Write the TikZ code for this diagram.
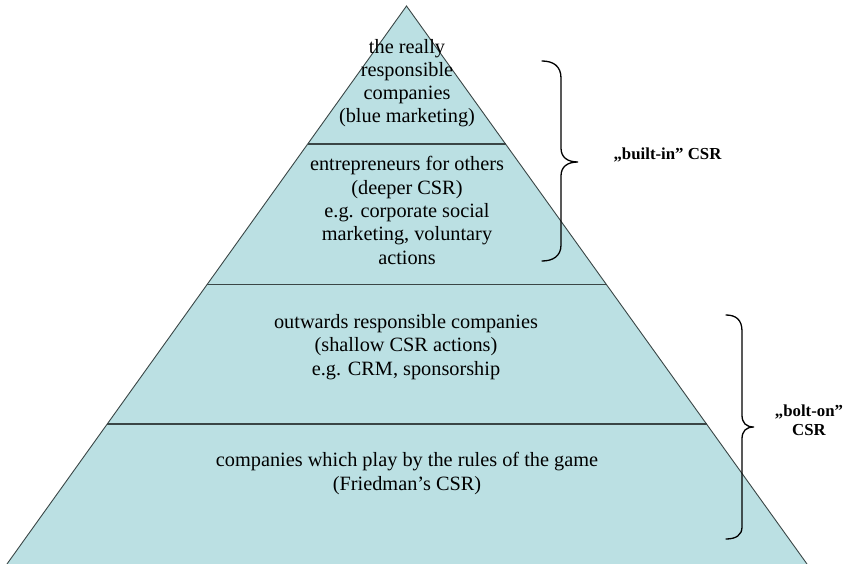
\documentclass[tikz,border=0pt]{standalone}
\usepackage{fontspec}
\setmainfont{Liberation Serif}
\usetikzlibrary{calc}
\definecolor{pyrfill}{HTML}{BBE0E3}
\definecolor{pyrline}{HTML}{3A4646}
\tikzset{
  layertext/.style={anchor=base, align=center, inner sep=0pt, font=\fontsize{20.3}{23.3}\selectfont},
  sidelabel/.style={anchor=base, align=center, inner sep=0pt, font=\fontsize{16.8}{18.5}\selectfont\bfseries},
  divider/.style={draw=pyrline, line width=1.8pt},
  bracepath/.style={draw=black, line width=1.3pt, line cap=round}
}
\begin{document}
\begin{tikzpicture}[x=1pt,y=-1pt]
\useasboundingbox (0,0) rectangle (862,564);
\coordinate (apex) at (406.5,6);
\coordinate (bl) at (7,564);
\coordinate (br) at (807,564);
\fill[pyrfill] (apex) -- (br) -- (bl) -- cycle;
\draw[pyrline, line width=0.9pt] (bl) -- (apex) -- (br);
\coordinate (l1) at ($(apex)!0.2473!(bl)$);
\coordinate (r1) at ($(apex)!0.2473!(br)$);
\coordinate (l2) at ($(apex)!0.4991!(bl)$);
\coordinate (r2) at ($(apex)!0.4991!(br)$);
\coordinate (l3) at ($(apex)!0.7491!(bl)$);
\coordinate (r3) at ($(apex)!0.7491!(br)$);
\draw[divider] (l1) -- (r1);
\draw[divider] (l2) -- (r2);
\draw[divider] (l3) -- (r3);

% base anchor = baseline of the last line
\node[layertext] (t1) at (407,123) {the really\\responsible\\companies\\(blue marketing)};
\node[layertext] (t2) at (407,264) {entrepreneurs for others\\(deeper CSR)\\e.g. corporate social\\marketing, voluntary\\actions};
\node[layertext] (t3) at (406,375) {outwards responsible companies\\(shallow CSR actions)\\e.g. CRM, sponsorship};
\node[layertext] (t4) at (407,490) {companies which play by the rules of the game\\(Friedman’s CSR)};

\coordinate (b1top) at (542,61);
\coordinate (b1tip) at (578,162);
\coordinate (b1bot) at (542,261);
\draw[bracepath] (b1top) .. controls (553,61) and (561,66) .. (561,78) -- (561,148)
  .. controls (561,157) and (567,162) .. (b1tip)
  .. controls (567,162) and (561,167) .. (561,176) -- (561,245)
  .. controls (561,256) and (553,261) .. (b1bot);
\coordinate (b2top) at (726,315);
\coordinate (b2tip) at (754,427);
\coordinate (b2bot) at (726,539);
\draw[bracepath] (b2top) .. controls (736,315) and (742,320) .. (742,331) -- (742,415)
  .. controls (742,423) and (746,427) .. (b2tip)
  .. controls (746,427) and (742,431) .. (742,439) -- (742,527)
  .. controls (742,535) and (736,539) .. (b2bot);

\node[sidelabel] (builtin) at (667.5,160) {„built-in” CSR};
\node[sidelabel] (bolton) at (809,435) {„bolt-on”\\CSR};
\end{tikzpicture}
\end{document}
